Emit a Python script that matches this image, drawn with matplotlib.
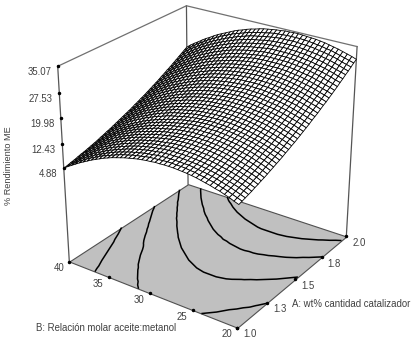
import matplotlib
matplotlib.use("Agg")
import matplotlib.pyplot as plt
import numpy as np
from mpl_toolkits.mplot3d.art3d import Poly3DCollection
from mpl_toolkits.mplot3d import proj3d

catalyst = [1.0,1.025,1.05,1.075,1.1,1.125,1.15,1.175,1.2,1.225,1.25,1.275,1.3,1.325,1.35,1.375,1.4,1.425,1.45,1.475,1.5,
            1.525,1.55,1.575,1.6,1.625,1.65,1.675,1.7,1.725,1.75,1.775,1.8,1.825,1.85,1.875,1.9,1.925,1.95,1.975,2.0]
molar = [20,20.5,21,21.5,22,22.5,23,23.5,24,24.5,25,25.5,26,26.5,27,27.5,28,28.5,29,29.5,30,
         30.5,31,31.5,32,32.5,33,33.5,34,34.5,35,35.5,36,36.5,37,37.5,38,38.5,39,39.5,40]
z_table = [
[11.7,12.2,12.8,13.2,13.7,14.0,14.4,14.7,15.0,15.3,15.5,15.7,15.8,15.9,16.0,16.0,16.0,15.9,15.9,15.7,15.6,15.4,15.2,14.9,14.6,14.3,13.9,13.5,13.1,12.6,12.1,11.5,10.9,10.3,9.6,8.9,8.2,7.4,6.6,5.8,4.9],
[12.0,12.5,13.0,13.5,13.9,14.3,14.7,15.0,15.3,15.5,15.8,15.9,16.1,16.2,16.2,16.3,16.3,16.2,16.1,16.0,15.9,15.7,15.4,15.2,14.9,14.5,14.2,13.8,13.3,12.8,12.3,11.8,11.2,10.5,9.9,9.2,8.4,7.7,6.8,6.0,5.1],
[12.3,12.8,13.3,13.8,14.2,14.6,15.0,15.3,15.6,15.8,16.0,16.2,16.4,16.4,16.5,16.5,16.5,16.5,16.4,16.3,16.1,15.9,15.7,15.4,15.1,14.8,14.4,14.0,13.6,13.1,12.6,12.0,11.4,10.8,10.1,9.4,8.7,7.9,7.1,6.2,5.4],
[12.6,13.2,13.7,14.1,14.5,14.9,15.3,15.6,15.9,16.1,16.3,16.5,16.6,16.7,16.8,16.8,16.8,16.8,16.7,16.6,16.4,16.2,16.0,15.7,15.4,15.1,14.7,14.3,13.8,13.4,12.8,12.3,11.7,11.0,10.4,9.7,8.9,8.2,7.3,6.5,5.6],
[12.9,13.5,14.0,14.4,14.8,15.2,15.6,15.9,16.2,16.4,16.6,16.8,16.9,17.0,17.1,17.1,17.1,17.1,17.0,16.9,16.7,16.5,16.3,16.0,15.7,15.4,15.0,14.6,14.1,13.7,13.1,12.6,12.0,11.3,10.7,10.0,9.2,8.4,7.6,6.8,5.9],
[13.3,13.8,14.3,14.8,15.2,15.6,15.9,16.2,16.5,16.8,17.0,17.1,17.3,17.4,17.4,17.5,17.4,17.4,17.3,17.2,17.0,16.8,16.6,16.3,16.0,15.7,15.3,14.9,14.4,14.0,13.4,12.9,12.3,11.6,11.0,10.3,9.5,8.7,7.9,7.1,6.2],
[13.6,14.2,14.7,15.1,15.6,15.9,16.3,16.6,16.9,17.1,17.3,17.5,17.6,17.7,17.8,17.8,17.8,17.7,17.7,17.5,17.3,17.1,16.9,16.6,16.3,16.0,15.6,15.2,14.7,14.3,13.7,13.2,12.6,11.9,11.3,10.6,9.8,9.0,8.2,7.3,6.4],
[14.0,14.6,15.1,15.5,15.9,16.3,16.7,17.0,17.3,17.5,17.7,17.9,18.0,18.1,18.1,18.2,18.1,18.1,18.0,17.9,17.7,17.5,17.2,16.9,16.6,16.3,15.9,15.5,15.1,14.6,14.0,13.5,12.9,12.2,11.6,10.8,10.1,9.3,8.5,7.6,6.7],
[14.3,14.9,15.4,15.9,16.3,16.7,17.0,17.3,17.6,17.9,18.1,18.2,18.4,18.4,18.5,18.5,18.5,18.4,18.3,18.2,18.0,17.8,17.5,17.3,17.0,16.6,16.2,15.8,15.4,14.9,14.3,13.8,13.2,12.5,11.9,11.1,10.4,9.6,8.8,7.9,7.0],
[14.7,15.3,15.8,16.3,16.7,17.1,17.4,17.7,18.0,18.2,18.4,18.6,18.7,18.8,18.8,18.9,18.8,18.8,18.7,18.5,18.3,18.1,17.9,17.6,17.3,16.9,16.5,16.1,15.7,15.2,14.7,14.1,13.5,12.9,12.2,11.5,10.7,9.9,9.1,8.2,7.3],
[15.1,15.7,16.2,16.6,17.1,17.5,17.8,18.1,18.4,18.6,18.8,19.0,19.1,19.2,19.2,19.2,19.2,19.2,19.0,18.9,18.7,18.5,18.2,17.9,17.6,17.3,16.9,16.4,16.0,15.5,15.0,14.4,13.8,13.2,12.5,11.8,11.0,10.2,9.4,8.5,7.6],
[15.5,16.1,16.6,17.0,17.5,17.9,18.2,18.5,18.8,19.0,19.2,19.4,19.5,19.6,19.6,19.6,19.6,19.5,19.4,19.3,19.0,18.8,18.6,18.3,18.0,17.6,17.2,16.8,16.3,15.8,15.3,14.7,14.1,13.5,12.8,12.1,11.3,10.5,9.7,8.9,8.0],
[15.9,16.5,17.0,17.5,17.9,18.3,18.6,18.9,19.2,19.4,19.6,19.8,19.9,20.0,20.0,20.0,20.0,19.9,19.8,19.7,19.4,19.2,18.9,18.6,18.3,18.0,17.6,17.1,16.7,16.2,15.6,15.0,14.4,13.8,13.1,12.4,11.7,10.9,10.1,9.2,8.3],
[16.3,16.9,17.4,17.9,18.3,18.7,19.1,19.3,19.6,19.8,20.0,20.2,20.3,20.4,20.4,20.4,20.4,20.3,20.2,20.0,19.8,19.6,19.3,19.0,18.7,18.3,17.9,17.5,17.0,16.5,16.0,15.4,14.7,14.1,13.4,12.8,12.0,11.3,10.4,9.6,8.7],
[16.7,17.3,17.7,18.2,18.6,19.0,19.3,19.6,19.9,20.1,20.3,20.4,20.6,20.6,20.7,20.7,20.7,20.6,20.5,20.4,20.2,20.0,19.7,19.4,19.1,18.8,18.4,17.9,17.5,17.0,16.4,15.9,15.2,14.6,13.9,13.2,12.4,11.6,10.8,9.9,9.0],
[17.2,17.7,18.2,18.6,19.0,19.4,19.7,20.0,20.3,20.5,20.7,20.9,21.0,21.1,21.1,21.1,21.1,21.0,20.9,20.8,20.6,20.4,20.1,19.8,19.5,19.2,18.8,18.3,17.9,17.4,16.8,16.2,15.6,15.0,14.3,13.6,12.8,12.0,11.2,10.3,9.4],
[17.6,18.1,18.6,19.1,19.5,19.8,20.2,20.5,20.7,21.0,21.1,21.3,21.4,21.5,21.5,21.5,21.5,21.4,21.3,21.2,21.0,20.8,20.5,20.2,19.9,19.6,19.2,18.7,18.3,17.8,17.2,16.6,16.0,15.4,14.7,14.0,13.2,12.4,11.6,10.7,9.8],
[18.1,18.6,19.1,19.5,19.9,20.3,20.6,20.9,21.2,21.4,21.6,21.7,21.8,21.9,21.9,22.0,21.9,21.9,21.7,21.6,21.4,21.2,21.0,20.7,20.3,20.0,19.6,19.1,18.7,18.2,17.6,17.0,16.4,15.8,15.1,14.3,13.6,12.8,11.9,11.1,10.2],
[18.5,19.1,19.5,20.0,20.4,20.7,21.1,21.4,21.6,21.8,22.0,22.2,22.3,22.4,22.4,22.4,22.4,22.3,22.2,22.0,21.9,21.6,21.4,21.1,20.8,20.4,20.0,19.6,19.1,18.6,18.0,17.4,16.8,16.2,15.5,14.7,14.0,13.2,12.3,11.5,10.6],
[19.0,19.5,20.0,20.4,20.9,21.2,21.5,21.8,22.1,22.3,22.5,22.6,22.8,22.8,22.9,22.9,22.8,22.7,22.6,22.5,22.3,22.1,21.8,21.5,21.2,20.9,20.4,20.0,19.5,19.0,18.5,17.9,17.3,16.6,15.9,15.2,14.4,13.6,12.8,11.9,11.0],
[19.5,20.0,20.5,20.9,21.3,21.7,22.0,22.3,22.6,22.8,22.9,23.1,23.2,23.3,23.3,23.3,23.3,23.2,23.1,22.9,22.7,22.5,22.3,22.0,21.7,21.3,20.9,20.4,20.0,19.5,18.9,18.3,17.7,17.0,16.3,15.6,14.8,14.0,13.2,12.3,11.4],
[20.0,20.5,21.0,21.4,21.8,22.2,22.5,22.8,23.0,23.3,23.4,23.6,23.7,23.8,23.8,23.8,23.7,23.7,23.5,23.4,23.2,23.0,22.7,22.4,22.1,21.7,21.3,20.9,20.4,19.9,19.3,18.8,18.1,17.5,16.8,16.0,15.3,14.5,13.6,12.7,11.8],
[20.5,21.0,21.5,21.9,22.3,22.7,23.0,23.3,23.5,23.7,23.9,24.1,24.2,24.2,24.3,24.3,24.2,24.1,24.0,23.9,23.7,23.5,23.2,22.9,22.6,22.2,21.8,21.3,20.9,20.4,19.8,19.2,18.6,17.9,17.2,16.5,15.7,14.9,14.1,13.2,12.3],
[21.0,21.5,22.0,22.4,22.8,23.2,23.5,23.8,24.0,24.2,24.4,24.6,24.7,24.7,24.8,24.8,24.7,24.6,24.5,24.4,24.2,23.9,23.7,23.4,23.1,22.7,22.3,21.8,21.4,20.8,20.3,19.7,19.1,18.4,17.7,17.0,16.2,15.4,14.5,13.6,12.7],
[21.6,22.0,22.5,22.9,23.3,23.7,24.0,24.3,24.5,24.7,24.9,25.1,25.2,25.2,25.3,25.3,25.2,25.1,25.0,24.8,24.7,24.4,24.2,23.9,23.5,23.2,22.8,22.3,21.8,21.3,20.8,20.2,19.5,18.9,18.2,17.4,16.7,15.8,15.0,14.1,13.2],
[22.1,22.6,23.0,23.4,23.9,24.2,24.5,24.8,25.0,25.3,25.4,25.6,25.7,25.7,25.8,25.8,25.7,25.6,25.5,25.3,25.2,24.9,24.7,24.4,24.0,23.7,23.3,22.8,22.3,21.8,21.2,20.6,20.0,19.4,18.7,17.9,17.1,16.3,15.5,14.6,13.6],
[22.6,23.1,23.6,24.0,24.4,24.8,25.1,25.3,25.6,25.8,26.0,26.1,26.2,26.3,26.3,26.3,26.2,26.2,26.0,25.9,25.7,25.4,25.2,24.9,24.6,24.2,23.8,23.3,22.8,22.3,21.7,21.2,20.5,19.9,19.2,18.4,17.6,16.8,15.9,15.1,14.1],
[23.2,23.7,24.1,24.5,25.0,25.3,25.6,25.9,26.1,26.3,26.5,26.7,26.7,26.8,26.8,26.8,26.8,26.7,26.6,26.4,26.2,26.0,25.7,25.4,25.1,24.7,24.3,23.8,23.3,22.8,22.3,21.7,21.0,20.4,19.6,18.9,18.1,17.3,16.4,15.5,14.6],
[23.8,24.2,24.7,25.1,25.5,25.9,26.2,26.4,26.7,26.9,27.1,27.2,27.3,27.3,27.4,27.4,27.3,27.2,27.1,26.9,26.7,26.5,26.2,25.9,25.6,25.2,24.8,24.3,23.9,23.3,22.8,22.2,21.5,20.9,20.2,19.4,18.6,17.8,16.9,16.1,15.1],
[24.3,24.8,25.3,25.7,26.1,26.4,26.7,27.0,27.3,27.5,27.6,27.8,27.8,27.9,27.9,27.9,27.9,27.8,27.6,27.5,27.3,27.0,26.8,26.5,26.1,25.7,25.3,24.9,24.4,23.9,23.3,22.7,22.1,21.4,20.7,19.9,19.1,18.3,17.5,16.6,15.6],
[24.9,25.4,25.8,26.3,26.7,27.0,27.3,27.6,27.8,28.0,28.2,28.3,28.4,28.5,28.5,28.5,28.4,28.3,28.2,28.0,27.8,27.6,27.3,27.0,26.7,26.3,25.9,25.4,24.9,24.4,23.8,23.2,22.6,21.9,21.2,20.5,19.7,18.9,18.0,17.1,16.1],
[25.5,26.0,26.4,26.8,27.2,27.6,27.9,28.2,28.4,28.6,28.8,28.9,29.0,29.0,29.0,29.0,29.0,28.9,28.8,28.6,28.4,28.1,27.9,27.6,27.2,26.8,26.4,26.0,25.5,25.0,24.4,23.8,23.2,22.5,21.8,21.0,20.2,19.4,18.5,17.6,16.7],
[26.1,26.6,27.0,27.4,27.8,28.2,28.5,28.7,29.0,29.2,29.4,29.5,29.6,29.6,29.6,29.6,29.6,29.5,29.4,29.2,28.9,28.7,28.5,28.1,27.8,27.4,27.0,26.5,26.1,25.5,25.0,24.4,23.7,23.1,22.3,21.6,20.8,20.0,19.1,18.2,17.2],
[26.7,27.2,27.6,28.1,28.5,28.8,29.1,29.4,29.6,29.8,30.0,30.1,30.2,30.2,30.2,30.2,30.2,30.1,29.9,29.7,29.5,29.3,29.0,28.7,28.4,28.0,27.6,27.1,26.6,26.1,25.5,24.9,24.3,23.6,22.9,22.1,21.3,20.5,19.6,18.7,17.8],
[27.4,27.8,28.3,28.7,29.1,29.4,29.7,30.0,30.2,30.4,30.6,30.7,30.8,30.8,30.8,30.8,30.8,30.7,30.5,30.3,30.1,29.9,29.6,29.3,29.0,28.6,28.2,27.7,27.2,26.7,26.1,25.5,24.9,24.2,23.5,22.7,21.9,21.1,20.2,19.3,18.3],
[28.0,28.4,28.9,29.3,29.7,30.0,30.3,30.6,30.8,31.0,31.2,31.3,31.4,31.4,31.4,31.4,31.4,31.3,31.1,30.9,30.7,30.5,30.2,29.9,29.6,29.2,28.7,28.3,27.8,27.3,26.7,26.1,25.5,24.8,24.1,23.3,22.5,21.7,20.8,19.9,18.9],
[28.7,29.1,29.5,29.9,30.3,30.7,31.0,31.2,31.5,31.7,31.8,31.9,32.0,32.1,32.1,32.0,32.0,31.9,31.8,31.6,31.3,31.1,30.8,30.5,30.2,29.8,29.4,28.9,28.4,27.9,27.3,26.7,26.1,25.4,24.7,23.9,23.1,22.2,21.4,20.5,19.5],
[29.3,29.7,30.2,30.6,31.0,31.3,31.6,31.9,32.1,32.3,32.5,32.6,32.7,32.7,32.7,32.7,32.6,32.5,32.4,32.2,31.9,31.7,31.5,31.1,30.8,30.4,30.0,29.5,29.0,28.5,27.9,27.3,26.7,26.0,25.3,24.5,23.7,22.8,22.0,21.1,20.1],
[30.0,30.4,30.8,31.3,31.7,32.0,32.3,32.5,32.8,33.0,33.1,33.2,33.3,33.4,33.3,33.3,33.3,33.2,33.0,32.8,32.6,32.3,32.1,31.8,31.4,31.0,30.6,30.1,29.6,29.1,28.5,27.9,27.3,26.6,25.9,25.1,24.3,23.5,22.6,21.7,20.7],
[30.7,31.1,31.5,31.9,32.3,32.7,32.9,33.2,33.4,33.6,33.8,33.9,34.0,34.0,34.0,34.0,33.9,33.8,33.7,33.5,33.2,33.0,32.7,32.4,32.1,31.6,31.2,30.8,30.3,29.7,29.2,28.6,27.9,27.2,26.5,25.7,24.9,24.1,23.2,22.3,21.3],
[31.3,31.8,32.2,32.6,33.0,33.3,33.6,33.9,34.1,34.3,34.4,34.5,34.6,34.7,34.7,34.6,34.6,34.4,34.3,34.1,33.9,33.7,33.4,33.0,32.7,32.3,31.8,31.4,30.9,30.3,29.7,29.1,28.5,27.8,27.0,26.3,25.5,24.6,23.8,22.9,21.9],
]
z_ticks = [4.88, 12.43, 19.98, 27.53, 35.07]
a_ticks = [1.0, 1.25, 1.5, 1.75, 2.0]
a_labels = ['1.0', '1.3', '1.5', '1.8', '2.0']
b_ticks = [20, 25, 30, 35, 40]
levels = [10, 15, 20, 25, 30]
z_floor = -25.0

W, H = 418, 352
fig = plt.figure(figsize=(W/100, H/100), dpi=100)
plt.rcParams['font.family'] = 'Liberation Sans'
ax = fig.add_axes([-3.5/W, 15/H, 1, 1], projection='3d', computed_zorder=False)
ax.set_proj_type('persp', focal_length=0.65)
ax.view_init(elev=26.5, azim=-145)
ax.set_box_aspect((1, 1, 1.04), zoom=1.0)
ax.set_xlim(1, 2); ax.set_ylim(20, 40); ax.set_zlim(z_floor, 35.07)
ax.set_axis_off()

A, B = np.meshgrid(catalyst, molar, indexing='ij')
Z = np.array(z_table)

floor = [[(1, 20, z_floor), (2, 20, z_floor), (2, 40, z_floor), (1, 40, z_floor)]]
ax.add_collection3d(Poly3DCollection(floor, facecolor='#c0c0c0', edgecolor='#505050', linewidth=0.8, zorder=1))
ax.contour(A, B, Z, levels=levels, zdir='z', offset=z_floor, colors='black', linewidths=1.1, zorder=2)
top = 35.07
for x, y in [(1, 40), (2, 40), (2, 20)]:
    ax.plot([x, x], [y, y], [z_floor, top], color='#555555', lw=0.9, zorder=3)
ax.plot([1, 2, 2], [40, 40, 20], [top]*3, color='#707070', lw=0.9, zorder=3)
ax.plot_surface(A, B, Z, rstride=1, cstride=1, color='white', edgecolor='black', linewidth=0.6, shade=False, zorder=4)

tc = '#404040'
M = ax.get_proj()
def label(x, y, z, s, dx, dy, ha):
    px, py, _ = proj3d.proj_transform(x, y, z, M)
    ax.plot([x], [y], [z], marker='o', ms=1.5, color='black', zorder=5)
    ax.annotate(s, (px, py), xytext=(dx, dy), textcoords='offset pixels', color=tc,
                fontsize=6.9, ha=ha, va='center', zorder=6, annotation_clip=False)
for v in z_ticks:
    label(1, 40, v, f'{v:.2f}', -6.5, -6, 'right')
for v, s in zip(a_ticks, a_labels):
    label(v, 20, z_floor, s, 12.5, -6.5, 'center')
for v in b_ticks:
    label(1, v, z_floor, str(v), -10.5, -6.5, 'center')
fig.text(9/W, 1-166/H, '% Rendimiento ME', rotation=90, color=tc, fontsize=6.6, ha='center', va='center')
fig.text(36/W, 1-328/H, 'B: Relación molar aceite:metanol', color=tc, fontsize=6.9, ha='left', va='center')
fig.text(292/W, 1-304/H, 'A: wt% cantidad catalizador', color=tc, fontsize=6.9, ha='left', va='center')
fig.savefig('out.png', dpi=100)
